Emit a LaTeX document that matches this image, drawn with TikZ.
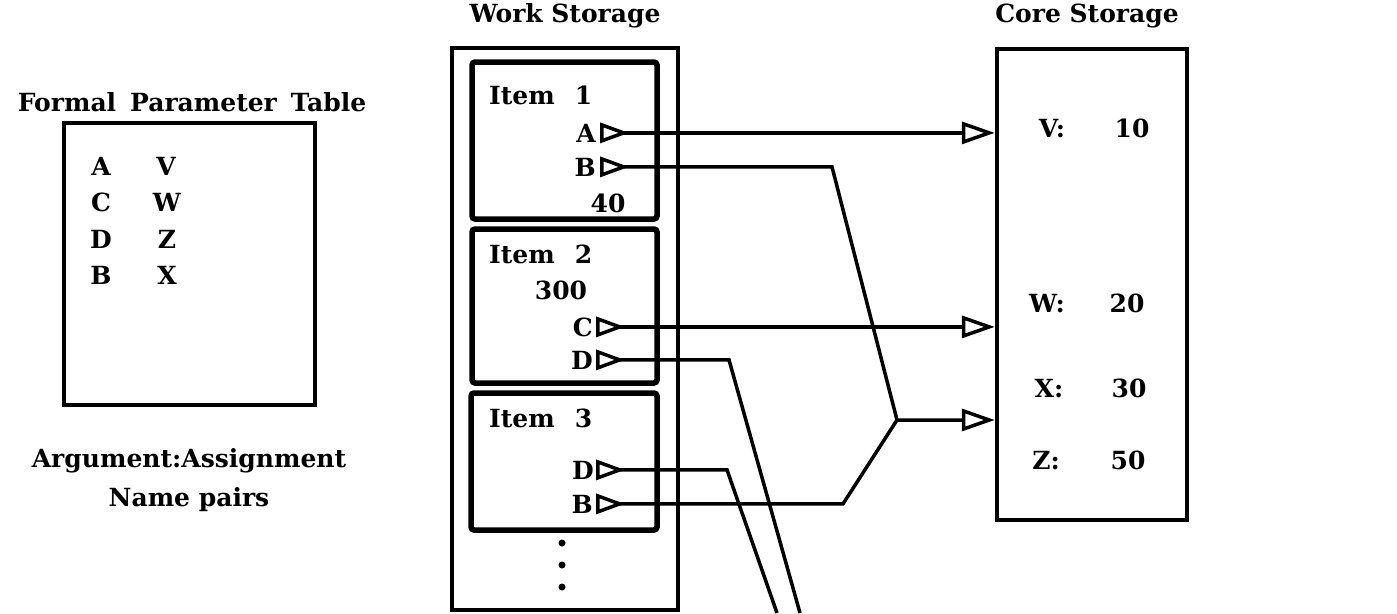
\documentclass[tikz,border=0pt]{standalone}
\usepackage{fontspec}
\setmainfont{DejaVu Serif}
\usetikzlibrary{arrows.meta}
\begin{document}
\begin{tikzpicture}[x=1pt,y=-1pt,
  txt/.style={font=\fontsize{25}{29}\selectfont\bfseries, inner sep=0pt},
  box/.style={draw, line width=4.5pt, inner sep=0pt},
  itembox/.style={draw, line width=5.5pt, rounded corners=3pt, inner sep=0pt},
  conn/.style={line width=3.5pt},
  both/.style={conn, {Triangle[reversed, fill=white, length=29pt, width=20pt]}-{Triangle[fill=white, length=33pt, width=22pt]}},
  srconly/.style={conn, {Triangle[reversed, fill=white, length=29pt, width=20pt]}-},
  dotmark/.style={circle, fill, inner sep=0pt, minimum size=7pt}]
\useasboundingbox (0,0) rectangle (1397,613);
% Formal parameter table
\node[txt, anchor=base] (fpttitle) at (192,111) {Formal\hspace{14pt}Parameter\hspace{14pt}Table};
\node[box, minimum width=251pt, minimum height=282pt] (fpt) at (189.5,264) {};
\node[txt, anchor=base] (ta) at (101,175) {A};
\node[txt, anchor=base] (tv) at (166,175) {V};
\node[txt, anchor=base] (tc) at (101,211) {C};
\node[txt, anchor=base] (tw) at (167,211) {W};
\node[txt, anchor=base] (td) at (101,248) {D};
\node[txt, anchor=base] (tz) at (167,248) {Z};
\node[txt, anchor=base] (tb) at (101,284) {B};
\node[txt, anchor=base] (tx) at (167,284) {X};
\node[txt, anchor=base] (arg) at (189,467) {Argument:Assignment};
\node[txt, anchor=base] (np) at (189,506) {Name pairs};
% Work storage
\node[txt, anchor=base] (wstitle) at (565,23) {Work Storage};
\node[box, minimum width=226pt, minimum height=562pt] (ws) at (565,329) {};
\node[itembox, minimum width=185pt, minimum height=157pt] (item1) at (564.5,140.5) {};
\node[itembox, minimum width=185pt, minimum height=154pt] (item2) at (564.5,306) {};
\node[itembox, minimum width=186pt, minimum height=137pt] (item3) at (564,461.5) {};
\node[txt, anchor=base west] (i1) at (489,104) {Item\hspace{20pt}1};
\node[txt, anchor=base east] (a1) at (596,142) {A};
\node[txt, anchor=base east] (b1) at (596,176) {B};
\node[txt, anchor=base] (v40) at (608,212) {40};
\node[txt, anchor=base west] (i2) at (489,263) {Item\hspace{20pt}2};
\node[txt, anchor=base] (v300) at (561,299) {300};
\node[txt, anchor=base east] (c2) at (593,336) {C};
\node[txt, anchor=base east] (d2) at (593,369) {D};
\node[txt, anchor=base west] (i3) at (489,427) {Item\hspace{20pt}3};
\node[txt, anchor=base east] (d3) at (594,479) {D};
\node[txt, anchor=base east] (b3) at (593,513) {B};
\node[dotmark] (dot1) at (562,543) {};
\node[dotmark] (dot2) at (562,565) {};
\node[dotmark] (dot3) at (562,587) {};
% Core storage
\node[txt, anchor=base] (cstitle) at (1087,23) {Core Storage};
\node[box, minimum width=190pt, minimum height=471pt] (core) at (1092,284.5) {};
\node[txt, anchor=base] (cv) at (1052,137) {V:};
\node[txt, anchor=base] (n10) at (1132,137) {10};
\node[txt, anchor=base] (cw) at (1047,312) {W:};
\node[txt, anchor=base] (n20) at (1127,312) {20};
\node[txt, anchor=base] (cx) at (1049,397) {X:};
\node[txt, anchor=base] (n30) at (1129,397) {30};
\node[txt, anchor=base] (cz) at (1046,469) {Z:};
\node[txt, anchor=base] (n50) at (1128,469) {50};
% routing points
\coordinate (b1k) at (832,0);
\coordinate (jx) at (897,420);
\coordinate (b3k) at (843,0);
\coordinate (d2k) at (729,0);
\coordinate (d2end) at (800,613);
\coordinate (d3k) at (727,0);
\coordinate (d3end) at (777,613);
% connectors
\draw[both] ([xshift=4pt]a1.east) -- (a1.east -| core.west);
\draw[both] ([xshift=4pt]b1.east) -- (b1.east -| b1k) -- (jx) -- (jx -| core.west);
\draw[both] ([xshift=3pt]c2.east) -- (c2.east -| core.west);
\draw[srconly] ([xshift=3pt]d2.east) -- (d2.east -| d2k) -- (d2end);
\draw[srconly] ([xshift=2pt]d3.east) -- (d3.east -| d3k) -- (d3end);
\draw[srconly] ([xshift=3pt]b3.east) -- (b3.east -| b3k) -- (jx);
\end{tikzpicture}
\end{document}
